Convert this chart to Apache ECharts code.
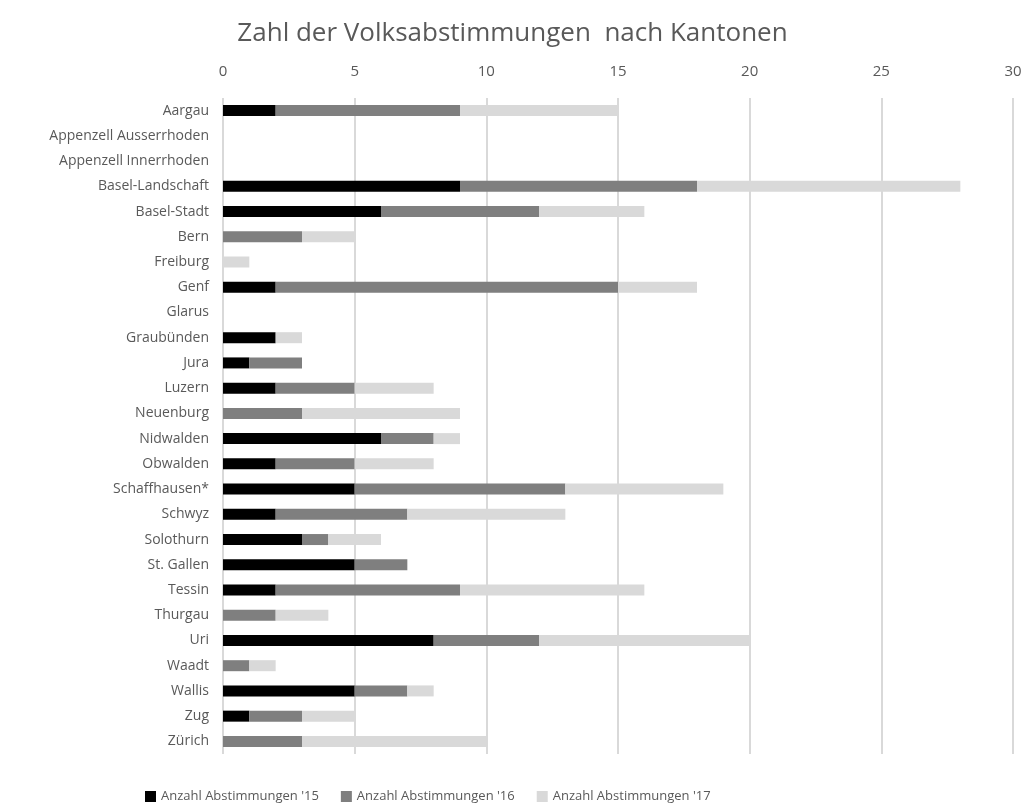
<!DOCTYPE html>
<html>
<head>
<meta charset="utf-8">
<script src="https://cdn.jsdelivr.net/npm/echarts@6/dist/echarts.min.js"></script>
<style>
  html, body { margin: 0; padding: 0; background: #fff; }
  #chart { width: 1025px; height: 809px; }
</style>
</head>
<body>
<div id="chart"></div>
<script>
// Kantone, von oben nach unten
var kantone = ['Aargau', 'Appenzell Ausserrhoden', 'Appenzell Innerrhoden', 'Basel-Landschaft', 'Basel-Stadt',
  'Bern', 'Freiburg', 'Genf', 'Glarus', 'Graubünden', 'Jura', 'Luzern', 'Neuenburg', 'Nidwalden', 'Obwalden',
  'Schaffhausen*', 'Schwyz', 'Solothurn', 'St. Gallen', 'Tessin', 'Thurgau', 'Uri', 'Waadt', 'Wallis', 'Zug', 'Zürich'];

var abst15 = [2, 0, 0, 9, 6, 0, 0, 2, 0, 2, 1, 2, 0, 6, 2, 5, 2, 3, 5, 2, 0, 8, 0, 5, 1, 0];
var abst16 = [7, 0, 0, 9, 6, 3, 0, 13, 0, 0, 2, 3, 3, 2, 3, 8, 5, 1, 2, 7, 2, 4, 1, 2, 2, 3];
var abst17 = [6, 0, 0, 10, 4, 2, 1, 3, 0, 1, 0, 3, 6, 1, 3, 6, 6, 2, 0, 7, 2, 8, 1, 1, 2, 7];

var xTicks = [0, 5, 10, 15, 20, 25, 30];

var font = '"Open Sans", sans-serif';
var chart = echarts.init(document.getElementById('chart'));

function serie(name, data, color) {
  return {
    name: name,
    type: 'bar',
    stack: 'total',
    data: data,
    barWidth: 11,
    itemStyle: { color: color },
    emphasis: { disabled: true }
  };
}

var option = {
  animation: false,
  textStyle: { fontFamily: font },
  title: {
    text: 'Zahl der Volksabstimmungen  nach Kantonen',
    left: 'center',
    top: 16,
    textStyle: { fontFamily: font, fontSize: 26, fontWeight: 'normal', color: '#595959' }
  },
  legend: {
    bottom: 1,
    left: 140,
    itemGap: 22,
    itemWidth: 11,
    itemHeight: 11,
    icon: 'rect',
    textStyle: { fontFamily: font, fontSize: 13, color: '#595959' },
    data: ["Anzahl Abstimmungen '15", "Anzahl Abstimmungen '16", "Anzahl Abstimmungen '17"]
  },
  grid: {
    left: 223,
    right: 12,
    top: 98,
    bottom: 55
  },
  xAxis: {
    type: 'value',
    position: 'top',
    min: xTicks[0],
    max: xTicks[xTicks.length - 1],
    interval: 5,
    axisLine: { show: false },
    axisTick: { show: false },
    axisLabel: { fontFamily: font, fontSize: 15, color: '#595959', margin: 19 },
    splitLine: { lineStyle: { color: '#d9d9d9', width: 2 } }
  },
  yAxis: {
    type: 'category',
    inverse: true,
    data: kantone,
    axisLine: { show: false },
    axisTick: { show: false },
    axisLabel: { fontFamily: font, fontSize: 14, color: '#595959', margin: 14 }
  },
  series: [
    serie("Anzahl Abstimmungen '15", abst15, '#000000'),
    serie("Anzahl Abstimmungen '16", abst16, '#7f7f7f'),
    serie("Anzahl Abstimmungen '17", abst17, '#d9d9d9')
  ]
};

chart.setOption(option);
</script>
</body>
</html>
